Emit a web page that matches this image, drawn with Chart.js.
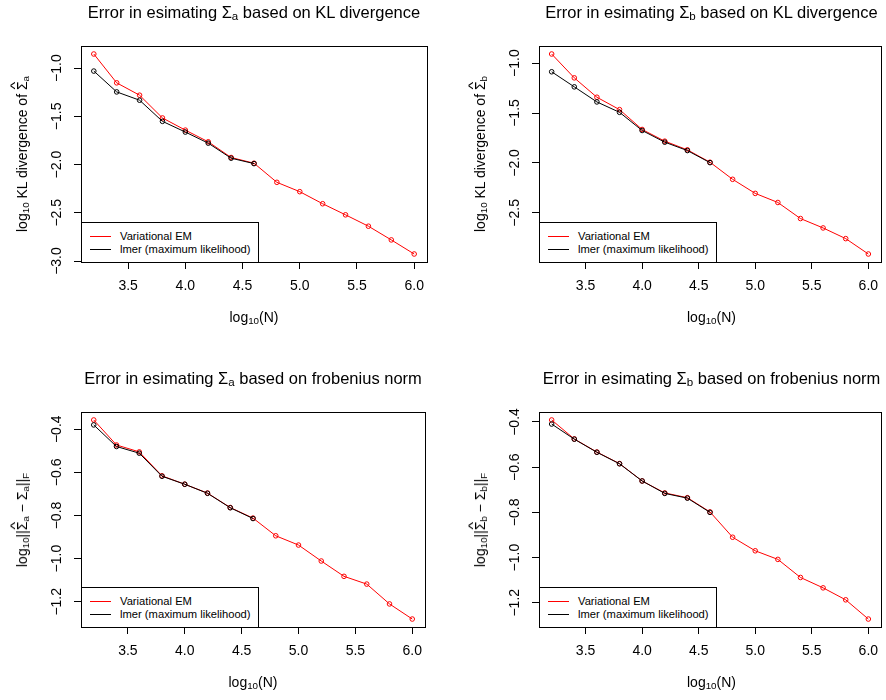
<!DOCTYPE html>
<html>
<head>
<meta charset="utf-8">
<script src="https://cdn.jsdelivr.net/npm/chart.js@4.4.1/dist/chart.umd.min.js"></script>
<style>
  body { margin: 0; background: #fff; }
  #wrap { position: relative; width: 886px; height: 700px; font-family: 'Liberation Sans', Arial, sans-serif; color: #000; }
  canvas { position: absolute; }
  .ttl { position: absolute; font-size: 16.5px; white-space: nowrap; transform: translate(-50%, -50%); }
  .xlab { position: absolute; font-size: 14px; white-space: nowrap; transform: translate(-50%, -50%); }
  .ylab { position: absolute; font-size: 14px; white-space: nowrap; transform: translate(-50%, -50%) rotate(-90deg); }
  sub { font-size: 0.7em; vertical-align: -0.25em; line-height: 0; }
  .hat { position: relative; display: inline-block; }
  .hat i { position: absolute; left: 0; right: 0; text-align: center; top: -0.5em; font-style: normal; font-size: 0.85em; transform: scaleX(1.4); }
  .leg { position: absolute; border: 1px solid #000; background: #fff; box-sizing: border-box; font-size: 11.2px; }
  .leg div { position: absolute; left: 38px; white-space: nowrap; transform: translateY(-50%); }
  .leg span { position: absolute; left: 8px; width: 21px; height: 0; border-top: 1px solid; }
</style>
</head>
<body>
<div id="wrap"></div>
<script>
'use strict'
// x values: log10(N)
var logN = [3.2, 3.4, 3.6, 3.8, 4.0, 4.2, 4.4, 4.6, 4.8, 5.0, 5.2, 5.4, 5.6, 5.8, 6.0];
var xTicks = [3.5, 4.0, 4.5, 5.0, 5.5, 6.0];

// KL divergence, Sigma_a
var klA_vem  = [-0.854, -1.153, -1.281, -1.517, -1.643, -1.764, -1.927, -1.986, -2.184, -2.281, -2.406, -2.521, -2.639, -2.781, -2.927];
var klA_lmer = [-1.031, -1.247, -1.333, -1.552, -1.663, -1.778, -1.934, -1.990];
var klA_ticks = [-3.0, -2.5, -2.0, -1.5, -1.0];

// KL divergence, Sigma_b
var klB_vem  = [-0.909, -1.148, -1.342, -1.466, -1.665, -1.782, -1.869, -1.993, -2.164, -2.305, -2.396, -2.557, -2.651, -2.758, -2.912];
var klB_lmer = [-1.087, -1.238, -1.389, -1.493, -1.675, -1.792, -1.876, -1.997];
var klB_ticks = [-2.5, -2.0, -1.5, -1.0];

// frobenius norm, Sigma_a
var frobA_vem  = [-0.357, -0.473, -0.505, -0.616, -0.655, -0.696, -0.763, -0.812, -0.894, -0.937, -1.011, -1.082, -1.118, -1.210, -1.280];
var frobA_lmer = [-0.380, -0.480, -0.511, -0.618, -0.655, -0.697, -0.764, -0.814];
var frobA_ticks = [-1.2, -1.0, -0.8, -0.6, -0.4];

// frobenius norm, Sigma_b
var frobB_vem  = [-0.391, -0.475, -0.533, -0.584, -0.661, -0.714, -0.735, -0.798, -0.910, -0.970, -1.008, -1.088, -1.134, -1.187, -1.272];
var frobB_lmer = [-0.409, -0.476, -0.534, -0.585, -0.661, -0.716, -0.737, -0.800];
var frobB_ticks = [-1.2, -1.0, -0.8, -0.6, -0.4];

var legendNames = ['Variational EM', 'lmer (maximum likelihood)'];

var SIG_HAT = '<span class="hat">\u03A3<i>^</i></span>';

var panels = [
  { ox: 0, oy: 0, left: 81, right: 427, top: 46, bottom: 262,
    vem: klA_vem, lmer: klA_lmer, yTicks: klA_ticks,
    title: 'Error in esimating \u03A3<sub>a</sub> based on KL divergence',
    ylab: 'log<sub>10</sub> KL divergence of ' + SIG_HAT + '<sub>a</sub>' },
  { ox: 443, oy: 0, left: 96, right: 441, top: 46, bottom: 262,
    vem: klB_vem, lmer: klB_lmer, yTicks: klB_ticks,
    title: 'Error in esimating \u03A3<sub>b</sub> based on KL divergence',
    ylab: 'log<sub>10</sub> KL divergence of ' + SIG_HAT + '<sub>b</sub>' },
  { ox: 0, oy: 350, left: 81, right: 425, top: 62, bottom: 277,
    vem: frobA_vem, lmer: frobA_lmer, yTicks: frobA_ticks,
    title: 'Error in esimating \u03A3<sub>a</sub> based on frobenius norm',
    ylab: 'log<sub>10</sub>||' + SIG_HAT + '<sub>a</sub> \u2212 \u03A3<sub>a</sub>||<sub>F</sub>' },
  { ox: 443, oy: 350, left: 96, right: 441, top: 62, bottom: 277,
    vem: frobB_vem, lmer: frobB_lmer, yTicks: frobB_ticks,
    title: 'Error in esimating \u03A3<sub>b</sub> based on frobenius norm',
    ylab: 'log<sub>10</sub>||' + SIG_HAT + '<sub>b</sub> \u2212 \u03A3<sub>b</sub>||<sub>F</sub>' }
];

var W = 443, H = 350;
var wrap = document.getElementById('wrap');

Chart.defaults.font.family = "'Liberation Sans', Arial, sans-serif";
Chart.defaults.color = '#000';

// box round the plot region, like R's box()
var framePlugin = {
  id: 'frame',
  afterDraw: function (chart) {
    var a = chart.chartArea, c = chart.ctx;
    c.save();
    c.strokeStyle = '#000';
    c.lineWidth = 1;
    c.strokeRect(Math.round(a.left) + 0.5, Math.round(a.top) + 0.5,
                 Math.round(a.right - a.left), Math.round(a.bottom - a.top));
    c.restore();
  }
};

function fmt(v) {
  return (v < 0 ? '\u2212' : '') + Math.abs(v).toFixed(1);
}

function addDiv(cls, html, x, y) {
  var d = document.createElement('div');
  d.className = cls;
  d.innerHTML = html;
  d.style.left = x + 'px';
  d.style.top = y + 'px';
  wrap.appendChild(d);
  return d;
}

panels.forEach(function (p) {
  var cv = document.createElement('canvas');
  cv.width = W; cv.height = H;
  cv.style.left = p.ox + 'px';
  cv.style.top = p.oy + 'px';
  wrap.appendChild(cv);

  var all = p.vem.concat(p.lmer);
  var lo = Math.min.apply(null, all), hi = Math.max.apply(null, all);
  var yext = (hi - lo) * 0.04;
  var xext = (logN[logN.length - 1] - logN[0]) * 0.04;

  var ptStyle = { pointRadius: 2.3, pointBorderWidth: 1, pointBackgroundColor: 'rgba(0,0,0,0)', borderWidth: 1, tension: 0 };

  new Chart(cv, {
    type: 'line',
    data: {
      datasets: [
        Object.assign({
          label: legendNames[1],
          data: p.lmer.map(function (v, i) { return { x: logN[i], y: v }; }),
          borderColor: '#000', pointBorderColor: '#000'
        }, ptStyle),
        Object.assign({
          label: legendNames[0],
          data: p.vem.map(function (v, i) { return { x: logN[i], y: v }; }),
          borderColor: '#ff0000', pointBorderColor: '#ff0000'
        }, ptStyle)
      ]
    },
    options: {
      responsive: false,
      animation: false,
      devicePixelRatio: 1,
      layout: { padding: { left: 0, top: p.top, right: W - p.right, bottom: 0 } },
      plugins: { legend: { display: false }, tooltip: { enabled: false } },
      scales: {
        x: {
          type: 'linear',
          min: logN[0] - xext,
          max: logN[logN.length - 1] + xext,
          afterBuildTicks: function (s) { s.ticks = xTicks.map(function (v) { return { value: v }; }); },
          afterFit: function (s) { s.height = H - p.bottom; s.paddingLeft = 0; s.paddingRight = 0; },
          grid: { drawOnChartArea: false, drawTicks: true, tickLength: 7, color: '#000' },
          border: { display: false },
          ticks: { padding: 9, font: { size: 14 }, maxRotation: 0, autoSkip: false,
                   callback: function (v) { return v.toFixed(1); } }
        },
        y: {
          type: 'linear',
          min: lo - yext,
          max: hi + yext,
          afterBuildTicks: function (s) { s.ticks = p.yTicks.map(function (v) { return { value: v }; }); },
          afterFit: function (s) { s.width = p.left; s.paddingTop = 0; s.paddingBottom = 0; },
          grid: { drawOnChartArea: false, drawTicks: true, tickLength: 7, color: '#000' },
          border: { display: false },
          ticks: { padding: 3, font: { size: 14 }, minRotation: 90, maxRotation: 90,
                   crossAlign: 'center', autoSkip: false, callback: fmt }
        }
      }
    },
    plugins: [framePlugin]
  });

  var cx = p.ox + (p.left + p.right) / 2;
  var cy = p.oy + (p.top + p.bottom) / 2;
  addDiv('ttl', p.title, cx, p.oy + p.top - 34);
  addDiv('xlab', 'log<sub>10</sub>(N)', cx, p.oy + p.bottom + 55);
  addDiv('ylab', p.ylab, p.ox + p.left - 59, cy);

  // legend, bottom-left inside the plot box
  var lg = document.createElement('div');
  lg.className = 'leg';
  lg.style.left = (p.ox + p.left) + 'px';
  lg.style.top = (p.oy + p.bottom - 40) + 'px';
  lg.style.width = '178px';
  lg.style.height = '41px';
  lg.innerHTML =
    '<span style="top:13px;color:#ff0000"></span><div style="top:13px">' + legendNames[0] + '</div>' +
    '<span style="top:26px;color:#000"></span><div style="top:26px">' + legendNames[1] + '</div>';
  wrap.appendChild(lg);
});
</script>
</body>
</html>
